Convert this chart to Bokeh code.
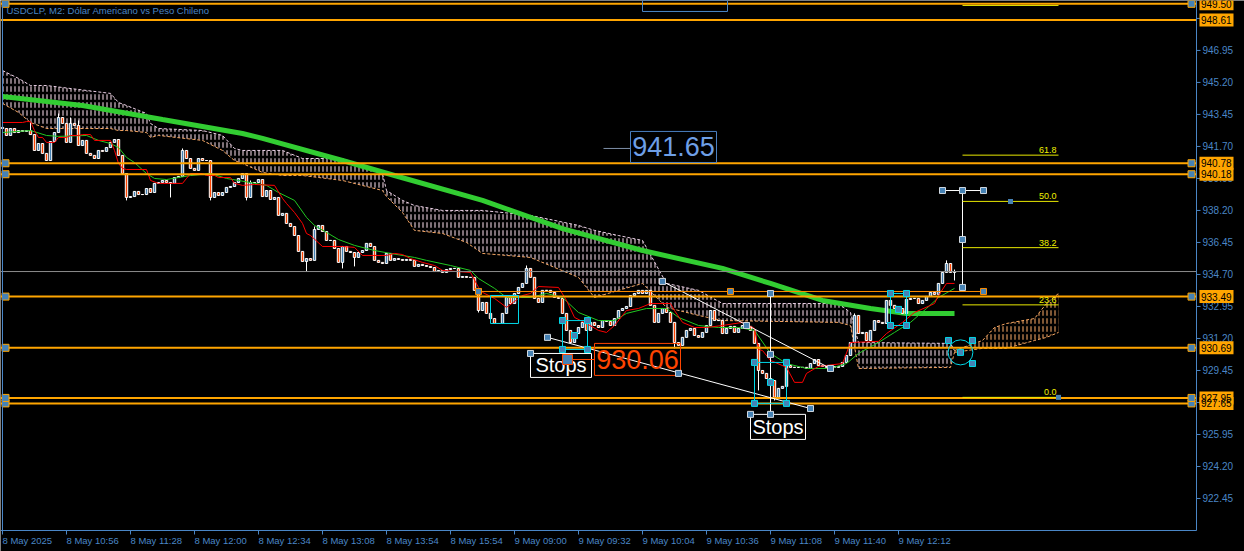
from bokeh.plotting import figure
from bokeh.embed import file_html
from bokeh.resources import INLINE
from bokeh.core.properties import value

# ---------------- data ----------------
title = "USDCLP, M2:  Dólar Americano vs Peso Chileno"
x_tick_idx = [0, 16, 32, 48, 64, 80, 96, 112, 128, 144, 160, 176, 192, 208, 224]
x_tick_labels = ["8 May 2025", "8 May 10:56", "8 May 11:28", "8 May 12:00", "8 May 12:34",
                 "8 May 13:08", "8 May 13:54", "8 May 15:54", "9 May 09:00", "9 May 09:32",
                 "9 May 10:04", "9 May 10:36", "9 May 11:08", "9 May 11:40", "9 May 12:12"]
y_ticks = [922.45, 924.20, 925.95, 927.70, 929.45, 931.20, 932.95, 934.70, 936.45,
           938.20, 939.95, 941.70, 943.45, 945.20, 946.95, 948.70]

first_open = 942.74
close = [
    942.68, 942.30, 942.68, 942.46, 942.57, 942.52, 942.57, 942.35, 941.48, 941.86,
    941.32, 940.93, 941.97, 942.46, 943.28, 942.96, 941.92, 942.96, 942.85, 941.75,
    942.03, 941.32, 941.21, 941.04, 941.48, 941.43, 941.64, 941.92, 942.08, 941.21,
    940.22, 938.91, 938.96, 939.24, 939.07, 939.07, 939.40, 939.18, 939.68, 939.73,
    939.84, 939.73, 939.68, 940.00, 940.06, 941.48, 941.04, 940.50, 940.39, 941.04,
    940.93, 940.93, 938.91, 939.18, 939.02, 939.18, 939.46, 939.51, 939.73, 939.95,
    940.22, 938.91, 939.73, 939.73, 939.89, 938.96, 939.29, 938.80, 938.91, 937.93,
    938.04, 937.49, 937.32, 936.83, 935.96, 935.41, 935.57, 935.47, 937.16, 937.38,
    937.05, 936.56, 936.56, 936.12, 935.36, 936.23, 935.96, 935.90, 935.63, 935.90,
    936.01, 936.40, 936.23, 935.47, 935.36, 935.30, 935.85, 935.47, 935.57, 935.52,
    935.47, 935.52, 935.47, 935.14, 935.25, 935.19, 935.14, 935.08, 934.86, 934.92,
    934.81, 934.97, 935.03, 935.03, 934.54, 934.59, 934.54, 934.54, 933.83, 932.73,
    933.17, 932.57, 932.29, 932.02, 932.02, 932.57, 933.44, 933.11, 933.66, 933.99,
    934.21, 935.03, 934.54, 933.39, 933.17, 933.83, 933.83, 933.72, 933.44, 933.39,
    932.57, 931.64, 930.98, 931.47, 931.80, 932.08, 931.64, 932.08, 931.91, 931.80,
    932.18, 932.13, 931.91, 932.29, 932.73, 932.84, 932.95, 933.55, 933.66, 933.83,
    933.66, 933.83, 933.01, 932.08, 932.57, 932.84, 932.62, 932.08, 930.98, 930.82,
    931.26, 931.64, 931.75, 931.36, 931.26, 931.53, 931.91, 932.73, 932.18, 932.18,
    931.47, 931.75, 931.86, 931.53, 931.75, 931.91, 931.86, 931.64, 930.93, 929.45,
    929.29, 929.01, 928.90, 927.98, 928.47, 928.58, 929.72, 929.62, 929.62, 929.62,
    929.62, 929.56, 929.83, 930.05, 929.72, 929.67, 929.62, 929.67, 929.62, 929.67,
    929.89, 930.27, 930.98, 932.46, 931.47, 931.53, 931.09, 931.64, 932.18, 932.08,
    932.02, 933.28, 933.01, 932.84, 932.84, 932.57, 933.33, 933.39, 933.39, 933.11,
    933.28, 933.50, 933.72, 933.61, 934.21, 934.81, 935.30, 934.81, 934.86,
]
wick_idx = [0, 7, 14, 17, 19, 31, 42, 45, 52, 61, 62, 76, 78, 85, 88, 119, 131, 168, 189, 193, 196, 213, 236, 238]
wick_high = [942.85, 943.01, 943.50, 943.28, 943.12, 940.22, 939.73, 941.59, 940.93, 940.22, 939.84, 935.57,
             937.32, 936.23, 935.90, 933.83, 935.19, 932.08, 930.93, 928.90, 929.94, 932.57, 935.47, 934.97]
wick_low = [942.03, 942.35, 942.96, 941.92, 941.75, 938.75, 938.91, 940.06, 938.75, 938.75, 938.91, 934.86,
            935.47, 935.03, 935.14, 932.62, 934.21, 930.66, 928.36, 927.81, 928.58, 930.98, 934.81, 934.37]

ma_long_idx = [0, 20, 40, 60, 65, 85, 98, 120, 140, 160, 180, 192, 205, 217, 226, 238]
ma_long_val = [944.43, 943.94, 943.17, 942.41, 942.14, 940.93, 940.11, 938.75, 937.21, 936.01,
               935.03, 934.21, 933.28, 932.84, 932.57, 932.57]

red_idx = [0, 5, 6, 7, 8, 9, 10, 11, 13, 14, 16, 17, 19, 20, 22, 23, 27, 28, 29, 30, 31, 36, 37, 39, 45,
           46, 47, 50, 51, 53, 54, 57, 58, 60, 63, 68, 70, 71, 73, 75, 76, 77, 80, 85, 88, 90, 96, 98,
           100, 102, 105, 108, 110, 117, 119, 120, 123, 126, 130, 132, 134, 139, 141, 143, 146, 149,
           151, 153, 156, 159, 162, 167, 168, 170, 173, 176, 180, 185, 188, 189, 190, 192, 196, 198,
           200, 201, 204, 210, 212, 219, 221, 225, 228, 233, 234, 236, 238]
red_val = [943.01, 943.01, 943.06, 943.06, 942.57, 942.19, 942.19, 941.92, 941.92, 942.19, 942.19, 942.30,
           942.30, 942.35, 942.35, 942.03, 942.03, 941.48, 940.77, 940.50, 940.44, 940.44, 939.84, 939.68,
           939.68, 939.95, 940.22, 940.22, 940.11, 940.11, 940.00, 940.00, 939.68, 939.57, 939.62, 939.57,
           938.86, 938.58, 938.09, 937.49, 936.94, 936.83, 936.23, 936.23, 936.18, 935.74, 935.74, 935.85,
           935.79, 935.57, 935.36, 935.19, 934.92, 934.81, 933.99, 933.72, 933.39, 932.90, 933.55, 933.66,
           934.04, 933.99, 933.28, 932.35, 932.02, 931.64, 931.53, 931.91, 932.73, 932.84, 933.11, 933.11,
           932.73, 932.08, 931.80, 931.80, 931.91, 932.08, 931.75, 930.60, 930.54, 930.00, 929.62, 928.80,
           928.80, 929.29, 929.67, 929.83, 930.98, 931.04, 931.47, 932.08, 932.62, 933.11, 933.55, 934.21,
           934.21]

grn_idx = [0, 7, 11, 14, 21, 24, 27, 29, 31, 33, 36, 38, 41, 47, 52, 56, 59, 66, 69, 73, 76, 78, 81, 84,
           88, 93, 97, 103, 106, 112, 117, 119, 123, 126, 132, 136, 140, 144, 149, 153, 156, 161, 166,
           169, 174, 179, 184, 188, 192, 196, 201, 207, 211, 214, 219, 223, 227, 231, 234, 238]
grn_val = [942.46, 942.57, 942.30, 942.25, 942.30, 942.03, 941.86, 941.64, 941.10, 940.82, 940.22, 939.95,
           939.89, 940.11, 940.22, 939.95, 939.84, 939.57, 939.18, 938.75, 937.82, 937.38, 937.00, 936.61,
           936.29, 936.01, 935.85, 935.63, 935.47, 935.19, 934.92, 934.48, 933.94, 933.44, 933.44, 933.66,
           933.44, 932.62, 932.18, 932.18, 932.57, 932.84, 932.84, 932.35, 931.91, 931.80, 931.80, 931.64,
           930.38, 929.83, 929.56, 929.56, 929.83, 930.38, 930.98, 931.53, 932.08, 932.84, 933.44, 933.94]

cloud_idx = [0, 4, 7, 11, 27, 29, 31, 36, 37, 39, 50, 55, 58, 60, 65, 70, 75, 85, 95, 96, 100, 103,
             110, 116, 120, 132, 144, 148, 154, 160, 166, 174, 180, 209, 212, 214, 237, 238]
cloud_top = [945.85, 945.42, 945.03, 945.03, 944.60, 944.10, 943.94, 943.50, 942.96, 942.68, 942.57,
             942.30, 941.59, 941.48, 941.48, 941.48, 941.04, 941.04, 940.22, 939.29, 938.75, 938.47,
             938.20, 938.20, 938.20, 937.93, 937.38, 937.11, 936.83, 936.56, 934.21, 933.83, 933.11,
             933.11, 932.62, 930.98, 930.93, 930.54]
cloud_bot = [944.05, 943.56, 943.01, 942.68, 942.68, 942.57, 942.57, 942.46, 942.19, 942.30, 942.03,
             941.48, 940.93, 940.77, 940.28, 940.11, 940.11, 939.84, 939.29, 938.96, 938.09, 937.11,
             936.94, 936.45, 935.85, 935.63, 934.54, 933.44, 933.83, 934.21, 932.90, 932.46, 932.18,
             932.08, 931.91, 929.56, 929.62, 930.44]
fcloud_idx = [238, 245, 248, 251, 258, 261, 264]
fcloud_top = [930.54, 931.09, 931.80, 932.02, 932.29, 933.11, 933.66]
fcloud_bot = [930.44, 930.66, 930.66, 930.66, 931.09, 931.26, 931.53]

levels = [949.50, 948.61, 940.78, 940.18, 933.49, 930.69, 927.65, 927.95]
level_handle = [True, False, True, True, True, True, True, True]
bid_price = 934.86

# drawn objects (bar index, price)
trend_x0 = [165, 136.25]
trend_y0 = [934.32, 931.26]
trend_x1 = [207, 202]
trend_y1 = [929.56, 927.37]
white_handle_x = [165, 186, 207, 136.25, 169, 202, 192, 192, 192, 187, 132, 235, 240, 245.25, 240, 240]
white_handle_y = [934.32, 931.91, 929.56, 931.26, 929.29, 927.37, 933.66, 930.33, 927.05, 927.05, 930.38,
                  939.29, 939.29, 939.29, 936.61, 933.99]
vline_x = [192, 240]
vline_top = [933.66, 939.29]
vline_bot = [927.05, 933.99]
fib_bar_x0, fib_bar_x1, fib_bar_y = 235, 245.25, 939.29
hline_orange_x0, hline_orange_x1, hline_orange_y = 119, 245.25, 933.77
orange_handle_x = [119, 182, 245.25]

cyan_left = [122, 140, 188, 222]
cyan_right = [129, 146.25, 196, 226]
cyan_top = [933.55, 932.18, 929.89, 933.66]
cyan_bot = [932.02, 930.60, 927.65, 931.91]
cyan_handle_x = [140, 146.25, 140, 146.25, 143, 188, 196, 188, 196, 192, 222, 226, 222, 226, 224,
                 236.5, 242.5, 242.5, 239.5]
cyan_handle_y = [932.18, 932.18, 930.60, 930.60, 931.36, 929.89, 929.89, 927.65, 927.65, 928.80,
                 933.66, 933.66, 931.91, 931.91, 932.79, 931.09, 931.09, 929.83, 930.44]
ell_x, ell_y, ell_w, ell_h = 239.5, 930.44, 6.2, 1.37

stops_left = [132, 187]
stops_right = [147.25, 200.75]
stops_top = [930.38, 927.05]
stops_bot = [929.07, 925.68]

price_box_text = ["941.65", "930.06"]
price_box_left = [157, 148]
price_box_right = [178.5, 169.5]
price_box_top = [942.52, 930.93]
price_box_bot = [940.82, 929.18]
price_box_color = ["#4A7FC0", "#FF4500"]
price_text_color = ["#6E9FE6", "#FF4500"]
conn_x0 = [150.25, 142.5]
conn_x1 = [157, 148]
conn_y = [941.59, 930.05]
conn_color = ["#7D8FA8", "#FF4500"]

fib_x0, fib_x1 = 240, 264
fib_low, fib_high = 927.98, 949.41
fib_levels = [0.0, 23.6, 38.2, 50.0, 61.8, 100.0]
fib_handle_x = [252, 264]

top_box = (160, 181.25, 949.68, 949.08)

# ---------------- layout / scales ----------------
BLUE = "#4A86C6"
FONT = "Liberation Sans"
W, H = 1244, 551
CHART_W, CHART_H = 1196, 530            # pixels of the price pane
X0, XA = -0.5, 298.5                    # bar range of the price pane
Y0, Y1 = 920.70, 949.68                 # price range of the price pane
ppb = CHART_W / (XA - X0)
ppu = CHART_H / (Y1 - Y0)
XR = X0 + W / ppb
YB = Y1 - H / ppu

p = figure(width=W, height=H, output_backend="svg", toolbar_location=None,
           x_range=(X0, XR), y_range=(YB, Y1),
           background_fill_color="black", border_fill_color="black",
           min_border=0, outline_line_color=None)
p.axis.visible = False
p.grid.visible = False


def px_x(n):
    return n / ppb


def px_y(n):
    return n / ppu


# cloud (hatched dotted look)
for cx, ct, cb, col, edge_top, edge_bot in [
        (cloud_idx, cloud_top, cloud_bot, "#FFE2F0", "#EBD0E6", "#F4A460"),
        (fcloud_idx, fcloud_top, fcloud_bot, "#FFAE6A", "#F4A460", "#F4A460")]:
    p.varea(x=cx, y1=ct, y2=cb, fill_alpha=0, hatch_pattern="|", hatch_color=col,
            hatch_scale=4, hatch_weight=1)
    p.varea(x=cx, y1=ct, y2=cb, fill_alpha=0, hatch_pattern="-", hatch_color="black",
            hatch_scale=8, hatch_weight=2.5)
    p.line(cx, ct, line_color=edge_top, line_dash="3 2", line_width=1)
    p.line(cx, cb, line_color=edge_bot, line_dash="3 2", line_width=1)

# long MA
p.line(ma_long_idx, ma_long_val, line_color="#32CD32", line_width=5)

# candles
n = len(close)
idx = list(range(n))
opens = [first_open] + close[:-1]
highs = [max(o, c) for o, c in zip(opens, close)]
lows = [min(o, c) for o, c in zip(opens, close)]
for k, hi, lo in zip(wick_idx, wick_high, wick_low):
    highs[k] = max(highs[k], hi)
    lows[k] = min(lows[k], lo)
colors = ["#4682B4" if c > o else ("#FF4500" if c < o else "white") for o, c in zip(opens, close)]
p.segment(idx, highs, idx, lows, line_color="white", line_width=1)
p.vbar(x=idx, width=0.6, top=[max(o, c) for o, c in zip(opens, close)],
       bottom=[min(o, c) for o, c in zip(opens, close)], fill_color=colors,
       line_color="white", line_width=1)

# fast lines
p.line(grn_idx, grn_val, line_color="#22C822", line_width=1)
p.line(red_idx, red_val, line_color="#FF0000", line_width=1)

# horizontal levels
p.segment([X0], [bid_price], [XA], [bid_price], line_color="#8C8C8C", line_width=1)
p.segment([X0] * len(levels), levels, [XA] * len(levels), levels, line_color="#FFA500", line_width=2)

# drawn objects
p.segment(trend_x0, trend_y0, trend_x1, trend_y1, line_color="white", line_width=1)
p.segment(vline_x, vline_top, vline_x, vline_bot, line_color="white", line_width=1)
p.segment([fib_bar_x0], [fib_bar_y], [fib_bar_x1], [fib_bar_y], line_color="white", line_width=1)
p.segment([hline_orange_x0], [hline_orange_y], [hline_orange_x1], [hline_orange_y],
          line_color="#FF8C00", line_width=1)

fib_prices = [fib_low + (fib_high - fib_low) * f / 100.0 for f in fib_levels]
p.segment([fib_x0] * len(fib_prices), fib_prices, [fib_x1] * len(fib_prices), fib_prices,
          line_color="#E8E800", line_width=1)
p.text(x=[fib_x1 - 0.5] * 5, y=[fp + px_y(2) for fp in fib_prices[:5]],
       text=[f"{f:.1f}" for f in fib_levels[:5]], text_color="#F0F000",
       text_font=value(FONT), text_font_size="9px", text_align="right", text_baseline="bottom")

p.quad(left=cyan_left, right=cyan_right, top=cyan_top, bottom=cyan_bot, fill_color=None,
       line_color="#00D8E8", line_width=1)
p.ellipse(x=[ell_x], y=[ell_y], width=ell_w, height=ell_h, fill_color=None,
          line_color="#00D8E8", line_width=1)

p.quad(left=stops_left, right=stops_right, top=stops_top, bottom=stops_bot, fill_color="black",
       line_color="white", line_width=1)
p.text(x=[(a + b) / 2 for a, b in zip(stops_left, stops_right)],
       y=[(a + b) / 2 for a, b in zip(stops_top, stops_bot)], text=["Stops", "Stops"],
       text_color="white", text_font=value(FONT), text_font_size="20px",
       text_align="center", text_baseline="middle")

p.segment(conn_x0, conn_y, conn_x1, conn_y, line_color=conn_color, line_width=1)
p.quad(left=price_box_left, right=price_box_right, top=price_box_top, bottom=price_box_bot,
       fill_color=None, line_color=price_box_color, line_width=1)
p.text(x=[(a + b) / 2 for a, b in zip(price_box_left, price_box_right)],
       y=[(a + b) / 2 for a, b in zip(price_box_top, price_box_bot)], text=price_box_text,
       text_color=price_text_color, text_font=value(FONT), text_font_size="27px",
       text_align="center", text_baseline="middle")

p.quad(left=[top_box[0]], right=[top_box[1]], top=[top_box[2]], bottom=[top_box[3]],
       fill_color=None, line_color=BLUE, line_width=1)

# handles
p.scatter(white_handle_x, white_handle_y, marker="square", size=6, fill_color="#4682B4",
          line_color="#D0D8E0", line_width=1)
p.scatter(cyan_handle_x, cyan_handle_y, marker="square", size=6, fill_color="#4682B4",
          line_color="#00D8E8", line_width=1)
p.scatter(orange_handle_x, [hline_orange_y] * 3, marker="square", size=6, fill_color="#4682B4",
          line_color="#FF8C00", line_width=1)
p.scatter(fib_handle_x, [fib_prices[3], fib_prices[0]], marker="square", size=5,
          fill_color="#4682B4", line_color=None)
p.scatter([conn_x0[1] - 1.25], [conn_y[1]], marker="square", size=10, fill_color="#4682B4",
          line_color="#FF4500", line_width=1)
hl = [lv for lv, h in zip(levels, level_handle) if h]
p.scatter([X0 + px_x(5)] * len(hl), hl, marker="square", size=7, fill_color="#4682B4",
          line_color="#FFA500", line_width=1)
p.scatter([XA - px_x(5)] * len(hl), hl, marker="square", size=7, fill_color="#4682B4",
          line_color="#FFA500", line_width=1)

# title
p.text(x=[X0 + px_x(6)], y=[Y1 - px_y(10)], text=[title], text_color=BLUE, text_font=value(FONT),
       text_font_size="9.5px", text_align="left", text_baseline="middle")

# ---- price pane frame and axes (drawn in data space) ----
p.segment([X0 + px_x(2)], [Y0], [X0 + px_x(2)], [Y1], line_color=BLUE, line_width=1)   # left border
p.segment([X0], [Y0], [XA], [Y0], line_color=BLUE, line_width=1)                      # bottom axis
p.segment([XA], [Y0], [XA], [Y1], line_color=BLUE, line_width=1)                      # right axis
# right axis ticks and labels
p.segment([XA] * len(y_ticks), y_ticks, [XA + px_x(4)] * len(y_ticks), y_ticks,
          line_color=BLUE, line_width=1)
p.text(x=[XA + px_x(6)] * len(y_ticks), y=y_ticks, text=[f"{t:.2f}" for t in y_ticks],
       text_color=BLUE, text_font=value(FONT), text_font_size="10px",
       text_align="left", text_baseline="middle")
# bottom axis ticks and labels
p.segment(x_tick_idx, [Y0] * len(x_tick_idx), x_tick_idx, [Y0 - px_y(4)] * len(x_tick_idx),
          line_color=BLUE, line_width=1)
p.text(x=x_tick_idx, y=[Y0 - px_y(4)] * len(x_tick_idx), text=x_tick_labels,
       text_color=BLUE, text_font=value(FONT), text_font_size="9.5px",
       text_align="left", text_baseline="top")
# right-side level price tags
p.quad(left=[XA + px_x(3)] * len(levels), right=[XA + px_x(37)] * len(levels),
       top=[lv + px_y(6.5) for lv in levels], bottom=[lv - px_y(6.5) for lv in levels],
       fill_color="#FFA500", line_color=None)
p.text(x=[XA + px_x(4.5)] * len(levels), y=levels, text=[f"{lv:.2f}" for lv in levels],
       text_color="black", text_font=value(FONT), text_font_size="10px",
       text_align="left", text_baseline="middle")

open("out.html", "w").write(file_html(p, INLINE))
